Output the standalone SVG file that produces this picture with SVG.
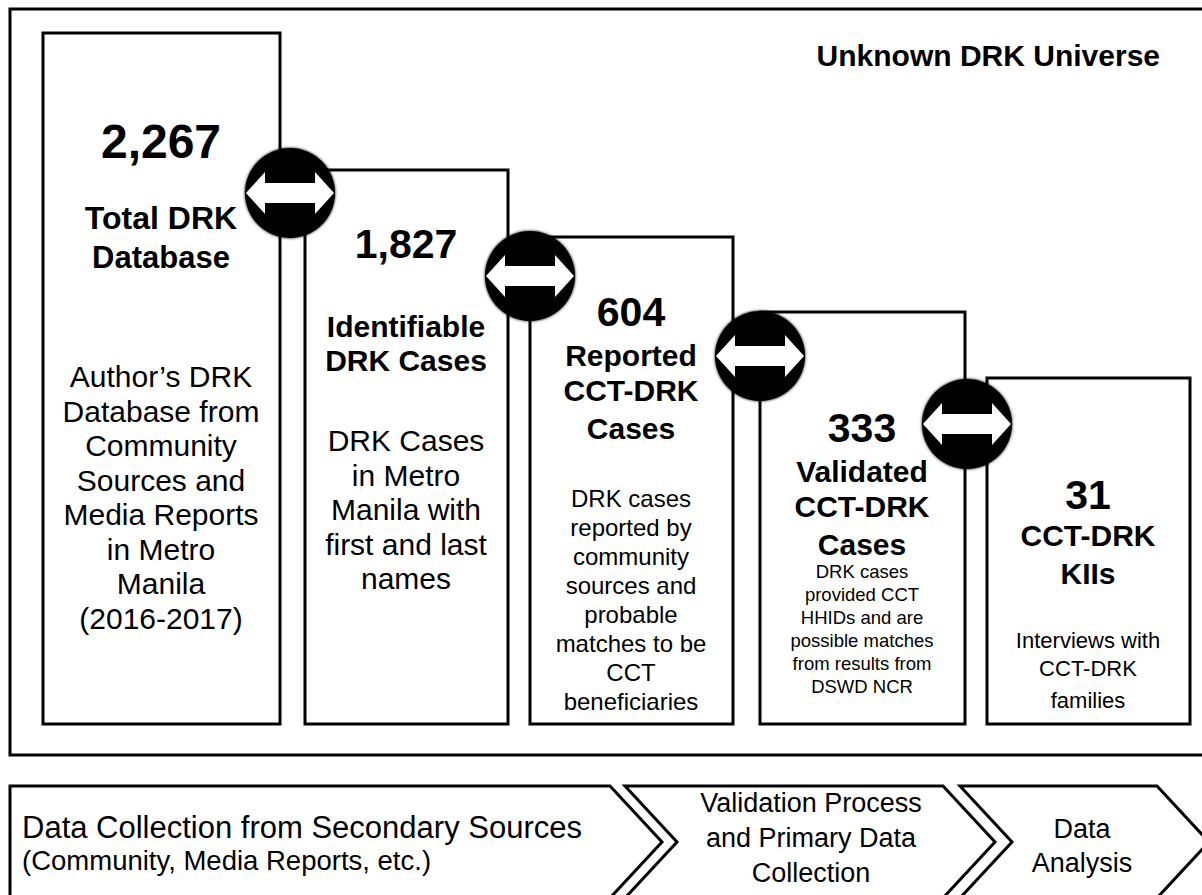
<svg xmlns="http://www.w3.org/2000/svg" width="1202" height="895" viewBox="0 0 1202 895">
<style>
.box{fill:#fff;stroke:#000;stroke-width:3}
.chev{fill:#fff;stroke:#000;stroke-width:3;stroke-linejoin:miter}
text{font-family:"Liberation Sans",Arial,Helvetica,sans-serif;fill:#000;text-anchor:middle}
.num1{font-size:48px;font-weight:bold}
.num{font-size:41px;font-weight:bold}
.ttl{font-size:30px;font-weight:bold}
.reg{font-size:30px}
.sm{font-size:24px}
.xs{font-size:18.5px}
.s5{font-size:22px}
.circ{fill:#000}
.arr{fill:#fff}
</style>
<defs>
<filter id="sh" x="-20%" y="-20%" width="140%" height="140%">
<feGaussianBlur in="SourceAlpha" stdDeviation="1.5" result="b"/>
<feMerge><feMergeNode in="b"/><feMergeNode in="SourceGraphic"/></feMerge>
</filter>
<g id="dbl">
<circle class="circ" cx="0" cy="0" r="45"/>
<polygon class="arr" points="-44,0 -25,-21 -25,-10 25,-10 25,-21 44,0 25,21 25,10 -25,10 -25,21"/>
</g>
</defs>
<rect x="0" y="0" width="1202" height="895" fill="#fff"/>
<g id="universe">
<rect class="box" x="10" y="9" width="1200" height="746"/>
<text x="1160" y="66" style="font-size:30px;font-weight:bold;text-anchor:end">Unknown DRK Universe</text>
</g>
<g id="node-total">
<rect class="box" x="43" y="33" width="237" height="691"/>
<text class="num1" x="161" y="158">2,267</text>
<text class="ttl" x="161" y="229" style="font-size:32px">Total DRK</text>
<text class="ttl" x="161" y="268" style="font-size:31px">Database</text>
<text class="reg" x="161" y="387">Author’s DRK</text>
<text class="reg" x="161" y="422">Database from</text>
<text class="reg" x="161" y="456">Community</text>
<text class="reg" x="161" y="491">Sources and</text>
<text class="reg" x="161" y="525">Media Reports</text>
<text class="reg" x="161" y="560">in Metro</text>
<text class="reg" x="161" y="594">Manila</text>
<text class="reg" x="161" y="629">(2016-2017)</text>
</g>
<g id="node-identifiable">
<rect class="box" x="305" y="170" width="203" height="554"/>
<text class="num" x="406" y="258">1,827</text>
<text class="ttl" x="406" y="337">Identifiable</text>
<text class="ttl" x="406" y="371">DRK Cases</text>
<text class="reg" x="406" y="451">DRK Cases</text>
<text class="reg" x="406" y="486">in Metro</text>
<text class="reg" x="406" y="520">Manila with</text>
<text class="reg" x="406" y="555">first and last</text>
<text class="reg" x="406" y="589">names</text>
</g>
<g id="node-reported">
<rect class="box" x="530" y="237" width="203" height="487"/>
<text class="num" x="631" y="326">604</text>
<text class="ttl" x="631" y="366">Reported</text>
<text class="ttl" x="631" y="401">CCT-DRK</text>
<text class="ttl" x="631" y="439">Cases</text>
<text class="sm" x="631" y="507">DRK cases</text>
<text class="sm" x="631" y="536">reported by</text>
<text class="sm" x="631" y="565">community</text>
<text class="sm" x="631" y="594">sources and</text>
<text class="sm" x="631" y="623">probable</text>
<text class="sm" x="631" y="652">matches to be</text>
<text class="sm" x="631" y="681">CCT</text>
<text class="sm" x="631" y="710">beneficiaries</text>
</g>
<g id="node-validated">
<rect class="box" x="760" y="312" width="205" height="412"/>
<text class="num" x="862" y="442">333</text>
<text class="ttl" x="862" y="482">Validated</text>
<text class="ttl" x="862" y="517">CCT-DRK</text>
<text class="ttl" x="862" y="555">Cases</text>
<text class="xs" x="862" y="578">DRK cases</text>
<text class="xs" x="862" y="601">provided CCT</text>
<text class="xs" x="862" y="624">HHIDs and are</text>
<text class="xs" x="862" y="647">possible matches</text>
<text class="xs" x="862" y="670">from results from</text>
<text class="xs" x="862" y="693">DSWD NCR</text>
</g>
<g id="node-kii">
<rect class="box" x="987" y="378" width="203" height="346"/>
<text class="num" x="1088" y="509">31</text>
<text class="ttl" x="1088" y="546">CCT-DRK</text>
<text class="ttl" x="1088" y="584">KIIs</text>
<text class="s5" x="1088" y="648">Interviews with</text>
<text class="s5" x="1088" y="676">CCT-DRK</text>
<text class="s5" x="1088" y="708">families</text>
</g>
<g id="connectors" filter="url(#sh)">
<use href="#dbl" x="290" y="193"/>
<use href="#dbl" x="530" y="276"/>
<use href="#dbl" x="760" y="356"/>
<use href="#dbl" x="967" y="424"/>
</g>
<g id="stage-secondary">
<polygon class="chev" points="10,786 610,786 662,842 610,898 10,898"/>
<text x="22" y="838" style="font-size:31px;text-anchor:start">Data Collection from Secondary Sources</text>
<text x="22" y="870" style="font-size:27.5px;text-anchor:start">(Community, Media Reports, etc.)</text>
</g>
<g id="stage-validation">
<polygon class="chev" points="625,786 943,786 995,842 943,898 625,898 677,842"/>
<text x="811" y="812" style="font-size:27px">Validation Process</text>
<text x="811" y="847" style="font-size:27px">and Primary Data</text>
<text x="811" y="882" style="font-size:27px">Collection</text>
</g>
<g id="stage-analysis">
<polygon class="chev" points="960,786 1157,786 1209,842 1157,898 960,898 1012,842"/>
<text x="1082" y="838" style="font-size:27px">Data</text>
<text x="1082" y="872" style="font-size:27px">Analysis</text>
</g>
</svg>
